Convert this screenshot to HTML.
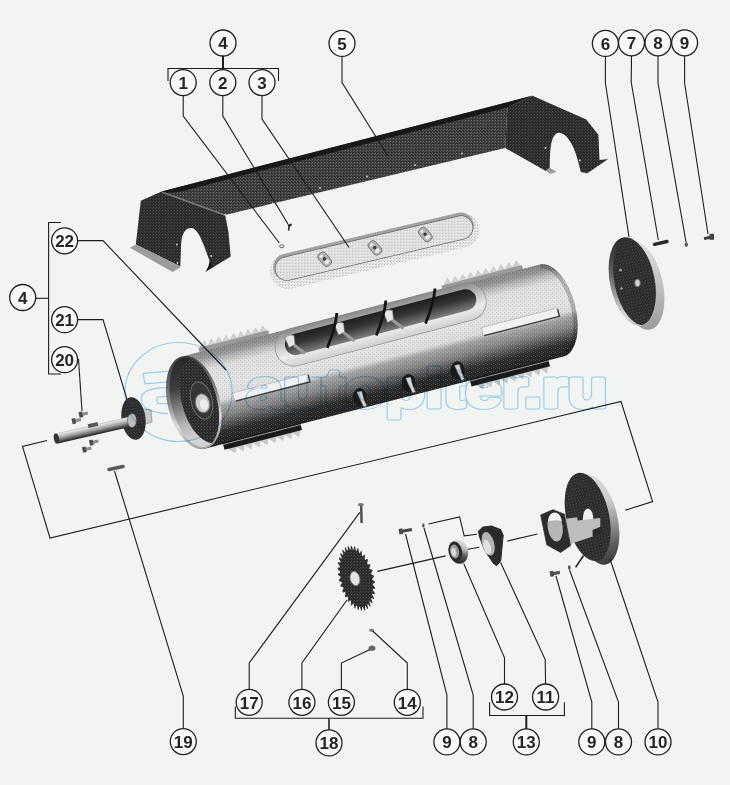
<!DOCTYPE html>
<html><head><meta charset="utf-8"><title>Diagram</title>
<style>html,body{margin:0;padding:0;background:#f2f4f1;}svg{display:block;will-change:transform}text{font-family:"Liberation Sans",sans-serif;}</style></head>
<body><svg width="730" height="785" viewBox="0 0 730 785">
<defs>
<pattern id="dk" width="3" height="3" patternUnits="userSpaceOnUse"><rect width="3" height="3" fill="#2a2a2a"/><rect x="0" y="0" width="1" height="1" fill="#525252"/><rect x="2" y="1" width="1" height="1" fill="#404040"/></pattern>
<pattern id="lt" width="3" height="3" patternUnits="userSpaceOnUse"><rect width="3" height="3" fill="#dedede"/><rect x="0" y="0" width="1" height="1" fill="#f4f4f4"/><rect x="1" y="2" width="1" height="1" fill="#c4c4c4"/></pattern>
<linearGradient id="cyl" gradientUnits="userSpaceOnUse" x1="362" y1="310" x2="386" y2="404">
<stop offset="0" stop-color="#858585"/><stop offset="0.07" stop-color="#939393"/><stop offset="0.13" stop-color="#bcbcbc"/><stop offset="0.2" stop-color="#dedede"/><stop offset="0.4" stop-color="#e4e4e4"/><stop offset="0.54" stop-color="#dcdcdc"/><stop offset="0.6" stop-color="#a2a2a2"/><stop offset="0.7" stop-color="#848484"/><stop offset="0.78" stop-color="#585858"/><stop offset="0.86" stop-color="#2c2c2c"/><stop offset="1" stop-color="#202020"/>
</linearGradient>
<pattern id="dk2" width="3" height="3" patternUnits="userSpaceOnUse"><rect width="3" height="3" fill="#3a3a3a"/><rect x="0" y="0" width="1" height="1" fill="#707070"/><rect x="2" y="1" width="1" height="1" fill="#585858"/><rect x="1" y="2" width="1" height="1" fill="#2c2c2c"/></pattern><pattern id="lt2" width="3" height="3" patternUnits="userSpaceOnUse"><rect width="3" height="3" fill="#e6e6e6"/><rect x="0" y="0" width="1" height="1" fill="#bdbdbd"/><rect x="2" y="1" width="1" height="1" fill="#f6f6f6"/><rect x="1" y="2" width="1" height="1" fill="#cfcfcf"/></pattern><clipPath id="bodyc"><path d="M182.0,356.5 L539.8,264.5 A47.5,24 75.6 0 1 563.5,356.5 L205.6,448.5 Z"/></clipPath><pattern id="nz" width="4" height="4" patternUnits="userSpaceOnUse"><rect x="0" y="0" width="1" height="1" fill="#000" fill-opacity="0.13"/><rect x="2" y="2" width="1" height="1" fill="#000" fill-opacity="0.10"/><rect x="3" y="0" width="1" height="1" fill="#fff" fill-opacity="0.2"/><rect x="1" y="3" width="1" height="1" fill="#fff" fill-opacity="0.16"/><rect x="1" y="1" width="1" height="1" fill="#c98" fill-opacity="0.12"/></pattern><linearGradient id="endg" gradientUnits="userSpaceOnUse" x1="184" y1="356" x2="207" y2="449"><stop offset="0" stop-color="#262626"/><stop offset="0.3" stop-color="#3c3c3c"/><stop offset="0.5" stop-color="#7a7a7a"/><stop offset="0.7" stop-color="#b5b5b5"/><stop offset="0.9" stop-color="#d8d8d8"/><stop offset="1" stop-color="#c4c4c4"/></linearGradient><linearGradient id="rimg" gradientUnits="userSpaceOnUse" x1="184" y1="356" x2="207" y2="449"><stop offset="0" stop-color="#3a3a3a"/><stop offset="0.45" stop-color="#8a8a8a"/><stop offset="0.7" stop-color="#dcdcdc"/><stop offset="1" stop-color="#9a9a9a"/></linearGradient><linearGradient id="rimS" gradientUnits="userSpaceOnUse" x1="376" y1="305.5" x2="385.6" y2="342"><stop offset="0" stop-color="#858585"/><stop offset="0.2" stop-color="#a4a4a4"/><stop offset="0.45" stop-color="#cccccc"/><stop offset="0.72" stop-color="#ececec"/><stop offset="1" stop-color="#d2d2d2"/></linearGradient><linearGradient id="slotg" gradientUnits="userSpaceOnUse" x1="377.5" y1="311.5" x2="383" y2="332.5"><stop offset="0" stop-color="#1e1e1e"/><stop offset="0.45" stop-color="#343434"/><stop offset="1" stop-color="#7c7c7c"/></linearGradient><linearGradient id="d6r" x1="0" y1="0" x2="0" y2="1"><stop offset="0" stop-color="#2a2a2a"/><stop offset="0.3" stop-color="#555"/><stop offset="0.6" stop-color="#9a9a9a"/><stop offset="0.85" stop-color="#dcdcdc"/><stop offset="1" stop-color="#bcbcbc"/></linearGradient><linearGradient id="d6b" x1="0" y1="0" x2="0" y2="1"><stop offset="0" stop-color="#e2e2e2"/><stop offset="0.5" stop-color="#c4c4c4"/><stop offset="1" stop-color="#9c9c9c"/></linearGradient><clipPath id="d6c"><ellipse cx="632.5" cy="281.5" rx="22" ry="44.5" transform="rotate(-12 632.5 281.5)"/></clipPath><linearGradient id="sh" gradientUnits="userSpaceOnUse" x1="93" y1="423" x2="95.5" y2="434"><stop offset="0" stop-color="#999"/><stop offset="0.3" stop-color="#e2e2e2"/><stop offset="0.65" stop-color="#9a9a9a"/><stop offset="1" stop-color="#333"/></linearGradient><linearGradient id="d10b" x1="0" y1="0" x2="0" y2="1"><stop offset="0" stop-color="#d8d8d8"/><stop offset="0.3" stop-color="#cfcfcf"/><stop offset="0.55" stop-color="#9c9c9c"/><stop offset="0.8" stop-color="#5c5c5c"/><stop offset="1" stop-color="#3a3a3a"/></linearGradient><linearGradient id="brg" x1="0.7" y1="0" x2="0.3" y2="1"><stop offset="0" stop-color="#e8e8e8"/><stop offset="0.35" stop-color="#bdbdbd"/><stop offset="0.62" stop-color="#555"/><stop offset="1" stop-color="#1e1e1e"/></linearGradient></defs>
<rect width="730" height="785" fill="#f2f4f1"/>
<polygon points="161.6,191.5 532.6,95.8 507.4,107.4 505.2,148.0 225.2,214.9" fill="url(#dk2)"/>
<polygon points="161.6,191.5 532.6,95.6 507.4,107.4 178.0,192.2 164.5,193.0" fill="#181818"/>
<path d="M161.6,191.5 L140.8,200.7 L135.8,244.5 L180.3,266.6 L181.2,243 C182,232 186.5,227.6 191.5,228 C197,228.6 201,238 204.4,246.7 L212,267.5 L205.5,271.9 L230.7,256.6 L228.5,232.5 L225.2,214.9 Z" fill="url(#dk)"/>
<polygon points="209.9,259.9 212.3,267.3 205.5,271.9 208.5,266.0" fill="#141414"/>
<polygon points="135.8,244.5 129.9,247.8 172.6,271.9 180.3,267.5 180.3,266.4" fill="#9c9c9c"/>
<polyline points="162.5,192.2 225.2,215.3" stroke="#777" stroke-width="1.6" fill="none"/>
<circle cx="225.3" cy="214.6" r="0.9" fill="#d8d8d8"/>
<circle cx="272.5" cy="203.5" r="0.9" fill="#d8d8d8"/>
<circle cx="176.8" cy="244.5" r="0.9" fill="#d8d8d8"/>
<circle cx="177.5" cy="263" r="0.9" fill="#d8d8d8"/>
<circle cx="211.2" cy="256" r="0.9" fill="#d8d8d8"/>
<path d="M507.4,107.4 L532.6,95.8 L586.3,119.5 L598.4,134.8 L599.5,160 L608.2,158.9 L587.4,173.2 L580.8,172 L577.5,158.9 C574,147 569,138 564.4,134.8 C560,131.5 556,132 553.4,137 C550.5,143 550,150 549.7,167.7 L545.8,171 L505.2,148 Z" fill="url(#dk)"/>
<polygon points="549.7,167.7 556.7,172.0 550.1,173.8 546.0,171.0" fill="#9a9a9a"/>
<circle cx="545.5" cy="148" r="0.9" fill="#d8d8d8"/>
<circle cx="580" cy="160.5" r="0.9" fill="#d8d8d8"/>
<circle cx="462" cy="153.5" r="0.9" fill="#d8d8d8"/>
<circle cx="415" cy="165" r="0.9" fill="#d8d8d8"/>
<circle cx="367" cy="176.5" r="0.9" fill="#d8d8d8"/>
<circle cx="320" cy="188" r="0.9" fill="#d8d8d8"/>
<line x1="287.6" y1="271.2" x2="461.6" y2="230.2" stroke="url(#lt2)" stroke-width="35.3" stroke-linecap="round" />
<line x1="286.6" y1="266.9" x2="460.6" y2="225.9" stroke="#a2a2a2" stroke-width="26.6" stroke-linecap="round" />
<line x1="287.0" y1="268.6" x2="461.0" y2="227.6" stroke="#666" stroke-width="24.4" stroke-linecap="round" />
<line x1="287.0" y1="268.6" x2="461.0" y2="227.6" stroke="url(#lt)" stroke-width="23" stroke-linecap="round" />
<g transform="translate(324.7 259.2) rotate(-40)"><rect x="-4.6" y="-7.6" width="9.2" height="15.2" rx="3.6" fill="#b2b2b2" stroke="#6e6e6e" stroke-width="0.8"/><ellipse cx="0" cy="3.6" rx="2.6" ry="2" fill="#ececec"/><ellipse cx="-0.6" cy="-4.6" rx="1.8" ry="1.4" fill="#e8e8e8"/><circle cx="0" cy="-0.4" r="1.7" fill="#3c3c3c"/></g>
<g transform="translate(375 247.9) rotate(-40)"><rect x="-4.6" y="-7.6" width="9.2" height="15.2" rx="3.6" fill="#b2b2b2" stroke="#6e6e6e" stroke-width="0.8"/><ellipse cx="0" cy="3.6" rx="2.6" ry="2" fill="#ececec"/><ellipse cx="-0.6" cy="-4.6" rx="1.8" ry="1.4" fill="#e8e8e8"/><circle cx="0" cy="-0.4" r="1.7" fill="#3c3c3c"/></g>
<g transform="translate(425.3 234.5) rotate(-40)"><rect x="-4.6" y="-7.6" width="9.2" height="15.2" rx="3.6" fill="#b2b2b2" stroke="#6e6e6e" stroke-width="0.8"/><ellipse cx="0" cy="3.6" rx="2.6" ry="2" fill="#ececec"/><ellipse cx="-0.6" cy="-4.6" rx="1.8" ry="1.4" fill="#e8e8e8"/><circle cx="0" cy="-0.4" r="1.7" fill="#3c3c3c"/></g>
<ellipse cx="281.8" cy="246.2" rx="2.2" ry="1.5" fill="none" stroke="#555" stroke-width="0.9"/>
<path d="M287.5,224.5 l4.5,-1 l-0.6,2.6 l-1.6,0.6 l-0.4,4 l-1.6,-0.3 l0.4,-3.8 z" fill="#2e2e2e"/>
<polygon points="200.5,348.1 204.1,341.0 207.8,346.2" fill="#d2d2d2" stroke="#a8a8a8" stroke-width="0.4"/><polygon points="207.8,346.2 211.4,339.1 215.1,344.4" fill="#d2d2d2" stroke="#a8a8a8" stroke-width="0.4"/><polygon points="215.1,344.4 218.7,337.2 222.4,342.5" fill="#d2d2d2" stroke="#a8a8a8" stroke-width="0.4"/><polygon points="222.4,342.5 226.0,335.4 229.7,340.6" fill="#d2d2d2" stroke="#a8a8a8" stroke-width="0.4"/><polygon points="229.7,340.6 233.4,333.5 237.1,338.7" fill="#d2d2d2" stroke="#a8a8a8" stroke-width="0.4"/><polygon points="237.1,338.7 240.7,331.6 244.4,336.8" fill="#d2d2d2" stroke="#a8a8a8" stroke-width="0.4"/><polygon points="244.4,336.8 248.0,329.7 251.7,335.0" fill="#d2d2d2" stroke="#a8a8a8" stroke-width="0.4"/><polygon points="251.7,335.0 255.3,327.8 259.0,333.1" fill="#d2d2d2" stroke="#a8a8a8" stroke-width="0.4"/><polygon points="259.0,333.1 262.6,326.0 266.3,331.2" fill="#d2d2d2" stroke="#a8a8a8" stroke-width="0.4"/>
<polygon points="443.6,285.7 447.4,278.5 451.2,283.7" fill="#d2d2d2" stroke="#a8a8a8" stroke-width="0.4"/><polygon points="451.2,283.7 455.0,276.5 458.9,281.7" fill="#d2d2d2" stroke="#a8a8a8" stroke-width="0.4"/><polygon points="458.9,281.7 462.7,274.6 466.5,279.8" fill="#d2d2d2" stroke="#a8a8a8" stroke-width="0.4"/><polygon points="466.5,279.8 470.3,272.6 474.2,277.8" fill="#d2d2d2" stroke="#a8a8a8" stroke-width="0.4"/><polygon points="474.2,277.8 478.0,270.6 481.8,275.8" fill="#d2d2d2" stroke="#a8a8a8" stroke-width="0.4"/><polygon points="481.8,275.8 485.6,268.7 489.5,273.9" fill="#d2d2d2" stroke="#a8a8a8" stroke-width="0.4"/><polygon points="489.5,273.9 493.3,266.7 497.1,271.9" fill="#d2d2d2" stroke="#a8a8a8" stroke-width="0.4"/><polygon points="497.1,271.9 500.9,264.7 504.8,269.9" fill="#d2d2d2" stroke="#a8a8a8" stroke-width="0.4"/><polygon points="504.8,269.9 508.6,262.8 512.4,268.0" fill="#d2d2d2" stroke="#a8a8a8" stroke-width="0.4"/><polygon points="512.4,268.0 516.2,260.8 520.1,266.0" fill="#d2d2d2" stroke="#a8a8a8" stroke-width="0.4"/>
<polygon points="198.4,348.1 268.1,330.2 269.6,336.0 199.9,354.0" fill="#9a9a9a"/>
<polygon points="441.5,285.7 521.9,265.0 523.4,270.8 443.0,291.5" fill="#9a9a9a"/>
<path d="M182.0,356.5 L539.8,264.5 A47.5,24 75.6 0 1 563.5,356.5 L205.6,448.5 A47.5,25.5 75.6 0 1 182.0,356.5 Z" fill="url(#cyl)"/>
<path d="M539.8,264.5 A47.5,24 75.6 0 1 563.5,356.5" fill="none" stroke="#000" stroke-opacity="0.22" stroke-width="9" clip-path="url(#bodyc)"/>
<rect x="160" y="250" width="430" height="210" fill="url(#nz)" clip-path="url(#bodyc)"/>
<polygon points="228.3,448.4 235.2,452.8 236.3,446.3" fill="#c9c9c9" stroke="#a8a8a8" stroke-width="0.4"/><polygon points="236.3,446.3 243.2,450.7 244.2,444.3" fill="#c9c9c9" stroke="#a8a8a8" stroke-width="0.4"/><polygon points="244.2,444.3 251.2,448.7 252.2,442.2" fill="#c9c9c9" stroke="#a8a8a8" stroke-width="0.4"/><polygon points="252.2,442.2 259.1,446.6 260.2,440.2" fill="#c9c9c9" stroke="#a8a8a8" stroke-width="0.4"/><polygon points="260.2,440.2 267.1,444.6 268.1,438.1" fill="#c9c9c9" stroke="#a8a8a8" stroke-width="0.4"/><polygon points="268.1,438.1 275.0,442.5 276.1,436.1" fill="#c9c9c9" stroke="#a8a8a8" stroke-width="0.4"/><polygon points="276.1,436.1 283.0,440.5 284.0,434.0" fill="#c9c9c9" stroke="#a8a8a8" stroke-width="0.4"/><polygon points="284.0,434.0 291.0,438.4 292.0,432.0" fill="#c9c9c9" stroke="#a8a8a8" stroke-width="0.4"/><polygon points="292.0,432.0 298.9,436.4 300.0,429.9" fill="#c9c9c9" stroke="#a8a8a8" stroke-width="0.4"/>
<polygon points="476.2,384.6 483.2,389.1 484.2,382.6" fill="#c9c9c9" stroke="#a8a8a8" stroke-width="0.4"/><polygon points="484.2,382.6 491.1,387.0 492.2,380.5" fill="#c9c9c9" stroke="#a8a8a8" stroke-width="0.4"/><polygon points="492.2,380.5 499.1,385.0 500.1,378.5" fill="#c9c9c9" stroke="#a8a8a8" stroke-width="0.4"/><polygon points="500.1,378.5 507.1,382.9 508.1,376.5" fill="#c9c9c9" stroke="#a8a8a8" stroke-width="0.4"/><polygon points="508.1,376.5 515.0,380.9 516.1,374.4" fill="#c9c9c9" stroke="#a8a8a8" stroke-width="0.4"/><polygon points="516.1,374.4 523.0,378.8 524.0,372.4" fill="#c9c9c9" stroke="#a8a8a8" stroke-width="0.4"/><polygon points="524.0,372.4 530.9,376.8 532.0,370.3" fill="#c9c9c9" stroke="#a8a8a8" stroke-width="0.4"/><polygon points="532.0,370.3 538.9,374.7 539.9,368.3" fill="#c9c9c9" stroke="#a8a8a8" stroke-width="0.4"/><polygon points="539.9,368.3 546.9,372.7 547.9,366.2" fill="#c9c9c9" stroke="#a8a8a8" stroke-width="0.4"/>
<polygon points="222.7,442.6 300.2,422.7 302.0,429.9 224.5,449.8" fill="#1a1a1a"/>
<polygon points="469.6,379.1 548.1,358.9 550.0,366.2 471.5,386.4" fill="#1a1a1a"/>
<line x1="223.2" y1="444.5" x2="300.7" y2="424.6" stroke="#a8a8a8" stroke-width="0.9"/>
<line x1="470.1" y1="381.0" x2="548.6" y2="360.9" stroke="#a8a8a8" stroke-width="0.9"/>
<polygon points="232.7,393.0 307.2,373.9 309.2,381.6 234.7,400.8" fill="#f1f1f1" stroke="#9a9a9a" stroke-width="0.5"/><polyline points="235.8,401.1 310.0,382.0 308.1,374.7" fill="none" stroke="#3c3c3c" stroke-width="1.3"/>
<polygon points="481.2,327.6 556.7,308.2 558.7,315.9 483.2,335.4" fill="#f1f1f1" stroke="#9a9a9a" stroke-width="0.5"/><polyline points="484.3,335.7 559.5,316.4 557.6,309.0" fill="none" stroke="#3c3c3c" stroke-width="1.3"/>
<clipPath id="openL"><ellipse cx="194.3" cy="402.5" rx="46" ry="22.8" transform="rotate(75.6 194.3 402.5)"/></clipPath>
<path d="M182.0,356.5 A47.5,25.5 75.6 1 0 205.6,448.5 A47.5,25.5 75.6 1 0 182.0,356.5 Z" fill="url(#rimg)" />
<g clip-path="url(#openL)"><path d="M182.3,357.7 A46.3,24.3 75.6 1 0 205.3,447.3 A46.3,24.3 75.6 1 0 182.3,357.7 Z" fill="url(#endg)" /><path d="M194.7,355.8 A45,24.3 75.6 1 0 217.1,443.0 A45,24.3 75.6 1 0 194.7,355.8 Z" fill="url(#dk)" /><ellipse cx="201.5" cy="400.5" rx="19" ry="10.5" transform="rotate(75.6 201.5 400.5)" fill="#353535" stroke="#6a6a6a" stroke-width="1"/><ellipse cx="202.6" cy="403.3" rx="9.6" ry="7.2" transform="rotate(75.6 202.6 403.3)" fill="#cdcdcd" stroke="#6c6c6c" stroke-width="1"/><ellipse cx="204" cy="404.5" rx="5.5" ry="4" transform="rotate(75.6 204 404.5)" fill="#ededed"/></g>
<line x1="294" y1="347.2" x2="467.3" y2="301.8" stroke="#8a8a8a" stroke-width="38.6" stroke-linecap="round"/>
<line x1="294" y1="347.2" x2="467.3" y2="301.8" stroke="url(#rimS)" stroke-width="37.2" stroke-linecap="round"/>
<line x1="295.5" y1="344.5" x2="465.7" y2="299.9" stroke="url(#slotg)" stroke-width="21.4" stroke-linecap="round"/>
<path d="M292,343.5 l13,10" stroke="#9a9a9a" stroke-width="3" fill="none"/>
<path d="M285,337.5 q4,-4 9,-2 l1,9 l-6,3 z" fill="#e6e6e6" stroke="#777" stroke-width="0.6"/>
<path d="M341.5,331 l13,10" stroke="#9a9a9a" stroke-width="3" fill="none"/>
<path d="M334.5,325 q4,-4 9,-2 l1,9 l-6,3 z" fill="#e6e6e6" stroke="#777" stroke-width="0.6"/>
<path d="M390.5,318.5 l13,10" stroke="#9a9a9a" stroke-width="3" fill="none"/>
<path d="M383.5,312.5 q4,-4 9,-2 l1,9 l-6,3 z" fill="#e6e6e6" stroke="#777" stroke-width="0.6"/>
<path d="M336.8,313 q-1,14 -9.5,35" stroke="#141414" stroke-width="2.8" fill="none"/>
<path d="M385.8,300.5 q-1,14 -9.5,35" stroke="#141414" stroke-width="2.8" fill="none"/>
<path d="M435,288.5 q-1,14 -9.5,35" stroke="#141414" stroke-width="2.8" fill="none"/>
<ellipse cx="359.8" cy="397" rx="7" ry="9" fill="#1a1a1a"/>
<path d="M356.8,392 l5,-1 l2,8 l3,7 l-3,1 l-4,-8 z" fill="#d5d5d5" stroke="#555" stroke-width="0.5"/>
<ellipse cx="408.6" cy="382.9" rx="7" ry="9" fill="#1a1a1a"/>
<path d="M405.6,377.9 l5,-1 l2,8 l3,7 l-3,1 l-4,-8 z" fill="#d5d5d5" stroke="#555" stroke-width="0.5"/>
<ellipse cx="457.5" cy="370.3" rx="7" ry="9" fill="#1a1a1a"/>
<path d="M454.5,365.3 l5,-1 l2,8 l3,7 l-3,1 l-4,-8 z" fill="#d5d5d5" stroke="#555" stroke-width="0.5"/>
<ellipse cx="641" cy="285.5" rx="22" ry="45" transform="rotate(-12 641 285.5)" fill="url(#d6b)"/>
<ellipse cx="632.5" cy="281.5" rx="22.5" ry="45" transform="rotate(-12 632.5 281.5)" fill="url(#d6r)"/>
<g clip-path="url(#d6c)"><ellipse cx="636" cy="282" rx="21.5" ry="44" transform="rotate(-12 636 282)" fill="url(#dk)"/></g>
<ellipse cx="637.5" cy="283" rx="2.8" ry="3.8" fill="#d0d0d0" stroke="#666" stroke-width="0.8"/>
<circle cx="620.5" cy="270" r="1.5" fill="#9a9a9a"/><circle cx="621.5" cy="288.5" r="1.3" fill="#9a9a9a"/>
<line x1="654.5" y1="244.3" x2="667" y2="241.5" stroke="#2a2a2a" stroke-width="3.4" stroke-linecap="round"/>
<ellipse cx="686.3" cy="244.6" rx="1.6" ry="2.4" fill="#555"/>
<line x1="704" y1="238.6" x2="714" y2="236.5" stroke="#3a3a3a" stroke-width="3"/><rect x="709.5" y="233.8" width="4.5" height="6" fill="#444"/>
<polygon points="141,408.5 151,410 152,422 142,425" fill="#c9c9c9" stroke="#777" stroke-width="0.6"/>
<ellipse cx="133.5" cy="418.5" rx="12" ry="21.5" transform="rotate(-8 133.5 418.5)" fill="url(#dk)"/>
<line x1="57" y1="438.5" x2="131" y2="421.5" stroke="url(#sh)" stroke-width="10.5"/>
<ellipse cx="56.5" cy="438.6" rx="2.6" ry="5.2" transform="rotate(-12 56.5 438.6)" fill="#333"/>
<ellipse cx="132" cy="420.5" rx="4.5" ry="7" fill="#bdbdbd" stroke="#555" stroke-width="0.6"/>
<rect x="88" y="423" width="10" height="4" fill="#555" transform="rotate(-13 93 425)"/>
<g transform="translate(83.5 414) rotate(-13)"><rect x="-4.5" y="-1.6" width="9" height="3.2" fill="#8c8c8c"/><rect x="-4.5" y="-2.8" width="3.6" height="5.6" fill="#4c4c4c"/></g>
<g transform="translate(76.5 420.5) rotate(-13)"><rect x="-4.5" y="-1.6" width="9" height="3.2" fill="#8c8c8c"/><rect x="-4.5" y="-2.8" width="3.6" height="5.6" fill="#4c4c4c"/></g>
<g transform="translate(94 442) rotate(-13)"><rect x="-4.5" y="-1.6" width="9" height="3.2" fill="#8c8c8c"/><rect x="-4.5" y="-2.8" width="3.6" height="5.6" fill="#4c4c4c"/></g>
<g transform="translate(87 449) rotate(-13)"><rect x="-4.5" y="-1.6" width="9" height="3.2" fill="#8c8c8c"/><rect x="-4.5" y="-2.8" width="3.6" height="5.6" fill="#4c4c4c"/></g>
<line x1="109" y1="469.4" x2="123" y2="466.6" stroke="#5a5a5a" stroke-width="3.6" stroke-linecap="round"/>
<ellipse cx="596.2" cy="520" rx="21.5" ry="45.5" transform="rotate(-12.5 596.2 520)" fill="url(#d10b)"/>
<ellipse cx="587.7" cy="516.9" rx="21.4" ry="45" transform="rotate(-12.5 587.7 516.9)" fill="url(#dk)"/>
<path d="M582.7,520.4 q0.3,-11.5 5.2,-12 q5,0.8 5.5,11 z" fill="#f0f0f0"/>
<polygon points="565.9,518.8 577.4,517.3 577.4,520.4 582.7,519.9 600.3,518.1 600.3,531.8 592.6,536.4 572.8,543.3 570.5,545.6" fill="#bdbdbd"/>
<polygon points="592.6,530.0 601.0,526.5 603.0,533.0 596.0,536.5 592.6,536.4" fill="#2a2a2a"/>
<polygon points="540.7,515.0 552.9,509.7 564.4,514.2 570.5,545.6 560.6,552.4 546.8,544.8" fill="#2c2c2c" stroke="#2c2c2c" stroke-width="0.8" stroke-linejoin="round"/>
<ellipse cx="555.2" cy="527.2" rx="7.5" ry="14.5" transform="rotate(-8 555.2 527.2)" fill="#b6b6b6"/>
<path d="M548,521.5 q7,-2 14,-0.5 q-2.2,-8.6 -7.4,-8.4 q-5.2,0.6 -6.6,8.9 z" fill="#f3f3f3"/>
<g transform="translate(555 573.2) rotate(-10)"><rect x="-5.0" y="-1.6" width="10" height="3.2" fill="#555"/><rect x="-5.0" y="-2.8" width="3.6" height="5.6" fill="#4c4c4c"/></g>
<ellipse cx="569.3" cy="567.5" rx="1.2" ry="2.2" fill="#444"/>
<polygon points="371.3,574.5 373.6,575.5 374.0,577.0 372.2,578.5 372.4,579.8 374.7,581.5 374.8,583.0 372.8,583.7 372.9,585.0 375.1,587.4 375.1,588.8 372.9,588.8 372.8,590.0 374.9,592.9 374.7,594.3 372.4,593.6 372.2,594.7 374.0,598.0 373.7,599.2 371.4,597.8 371.1,598.7 372.6,602.4 372.1,603.4 369.9,601.3 369.4,602.1 370.6,606.0 370.0,606.7 367.9,604.1 367.3,604.6 368.1,608.6 367.4,609.1 365.5,605.9 364.9,606.3 365.2,610.2 364.4,610.4 362.8,606.9 362.1,606.9 362.0,610.7 361.2,610.7 359.9,606.8 359.2,606.7 358.7,610.1 357.8,609.8 356.9,605.8 356.1,605.4 355.2,608.4 354.3,607.8 353.8,603.8 353.1,603.2 351.8,605.7 351.0,604.9 350.9,601.0 350.1,600.2 348.5,602.0 347.8,601.0 348.1,597.4 347.4,596.4 345.6,597.6 344.9,596.3 345.6,593.1 345.0,592.0 342.9,592.4 342.4,591.1 343.5,588.4 343.0,587.1 340.8,586.8 340.3,585.4 341.8,583.2 341.5,581.9 339.2,580.9 338.8,579.4 340.6,577.9 340.4,576.6 338.1,574.9 338.0,573.4 340.0,572.7 339.9,571.4 337.7,569.0 337.7,567.6 339.9,567.6 340.0,566.4 337.9,563.5 338.1,562.1 340.4,562.8 340.6,561.7 338.8,558.4 339.1,557.2 341.4,558.6 341.7,557.7 340.2,554.0 340.7,553.0 342.9,555.1 343.4,554.3 342.2,550.4 342.8,549.7 344.9,552.3 345.5,551.8 344.7,547.8 345.4,547.3 347.3,550.5 347.9,550.1 347.6,546.2 348.4,546.0 350.0,549.5 350.7,549.5 350.8,545.7 351.6,545.7 352.9,549.6 353.6,549.7 354.1,546.3 355.0,546.6 355.9,550.6 356.7,551.0 357.6,548.0 358.5,548.6 359.0,552.6 359.7,553.2 361.0,550.7 361.8,551.5 361.9,555.4 362.7,556.2 364.3,554.4 365.0,555.4 364.7,559.0 365.4,560.0 367.2,558.8 367.9,560.1 367.2,563.3 367.8,564.4 369.9,564.0 370.4,565.3 369.3,568.0 369.8,569.3 372.0,569.6 372.5,571.0 371.0,573.2" fill="url(#dk)"/>
<ellipse cx="354.9" cy="578.2" rx="4.8" ry="7.2" transform="rotate(-14 356.4 578.2)" fill="#e4e4e4" stroke="#777" stroke-width="0.8"/>
<line x1="361.2" y1="506" x2="361.6" y2="523" stroke="#4a4a4a" stroke-width="2.4"/><ellipse cx="360.8" cy="504.6" rx="3" ry="1.6" fill="#777"/>
<g transform="translate(405.5 530.6) rotate(-10)"><rect x="-6.5" y="-1.6" width="13" height="3.2" fill="#444"/><rect x="-6.5" y="-2.8" width="3.6" height="5.6" fill="#4c4c4c"/></g>
<ellipse cx="423.3" cy="525.4" rx="1.2" ry="2.2" fill="#555"/>
<ellipse cx="371.6" cy="630.2" rx="2.6" ry="1.5" fill="#777"/>
<ellipse cx="372" cy="648.2" rx="3.4" ry="2.6" fill="#666"/>
<ellipse cx="458.6" cy="551.6" rx="9.6" ry="12.2" transform="rotate(-12 458.6 551.6)" fill="url(#brg)"/>
<ellipse cx="455.3" cy="551.3" rx="6.8" ry="10" transform="rotate(-12 455.3 551.3)" fill="#2a2a2a"/>
<ellipse cx="454.6" cy="551.5" rx="4.4" ry="7" transform="rotate(-12 454.6 551.5)" fill="#9a9a9a"/>
<ellipse cx="453.8" cy="552.2" rx="2.4" ry="4.4" transform="rotate(-12 453.8 552.2)" fill="#d8d8d8"/>
<polygon points="478.5,531.2 482.6,527.1 491.6,526.0 500.7,529.6 503.2,535.3 500.7,560.8 496.6,565.8 493.3,563.3 484.2,549.3 479.3,536.2" fill="#2a2a2a" stroke="#2a2a2a" stroke-width="1" stroke-linejoin="round"/>
<ellipse cx="488.2" cy="543.8" rx="6" ry="12" transform="rotate(-15 488.2 543.8)" fill="#b4b4b4"/>
<ellipse cx="487.2" cy="547" rx="3.6" ry="7.5" transform="rotate(-15 487.2 547)" fill="#e2e2e2"/>
<mask id="wm" maskUnits="userSpaceOnUse" x="0" y="0" width="730" height="785"><text x="246.5" y="407" font-size="53" font-weight="bold" textLength="361" lengthAdjust="spacingAndGlyphs" stroke-linejoin="round" fill="#fff" stroke="#fff" stroke-width="4.9">autopiter.ru</text><text x="246.5" y="407" font-size="53" font-weight="bold" textLength="361" lengthAdjust="spacingAndGlyphs" stroke-linejoin="round" fill="#000" stroke="#000" stroke-width="3">autopiter.ru</text><ellipse cx="178.5" cy="392" rx="53.5" ry="49.5" fill="none" stroke="#fff" stroke-width="1.2"/><path d="M168,371.4 L143,373.4 L145,383.9 L168,382 M168,387.7 Q141,388 141.1,399 Q142,412.5 168,413.6 M168,396.4 L158,397 Q155,400 158,403.3 L168,403.7" fill="none" stroke="#fff" stroke-width="1.2"/></mask><rect width="730" height="785" fill="#a4d6f6" mask="url(#wm)" style="mix-blend-mode:multiply"/>
<g><polyline points="168.0,81.0 168.0,68.5 278.5,68.5 278.5,81.0" fill="none" stroke="#1e1e1e" stroke-width="1.1" /><polyline points="223.0,56.0 223.0,68.5" fill="none" stroke="#1e1e1e" stroke-width="2" /><polyline points="183.2,96.0 183.2,116.0 279.3,243.0" fill="none" stroke="#1e1e1e" stroke-width="1.1" /><polyline points="222.8,96.0 222.8,116.0 288.0,224.0" fill="none" stroke="#1e1e1e" stroke-width="1.1" /><polyline points="262.0,96.0 262.0,119.0 349.0,247.5" fill="none" stroke="#1e1e1e" stroke-width="1.1" /><polyline points="342.0,56.5 342.0,82.5 388.0,156.0" fill="none" stroke="#1e1e1e" stroke-width="1.1" /><polyline points="605.4,56.5 605.4,83.0 629.0,237.0" fill="none" stroke="#1e1e1e" stroke-width="1.1" /><polyline points="631.5,56.0 631.2,82.0 658.3,240.0" fill="none" stroke="#1e1e1e" stroke-width="1.1" /><polyline points="658.0,56.0 658.0,83.0 686.0,242.0" fill="none" stroke="#1e1e1e" stroke-width="1.1" /><polyline points="684.6,56.0 684.6,83.0 708.0,234.0" fill="none" stroke="#1e1e1e" stroke-width="1.1" /><polyline points="61.0,222.5 48.6,222.5 48.6,374.0 61.0,374.0" fill="none" stroke="#1e1e1e" stroke-width="1.1" /><polyline points="36.0,298.3 48.6,298.3" fill="none" stroke="#1e1e1e" stroke-width="1.1" /><polyline points="78.0,240.6 103.0,240.6 226.0,370.0" fill="none" stroke="#1e1e1e" stroke-width="1.1" /><polyline points="78.0,319.6 103.0,319.6 127.0,399.5" fill="none" stroke="#1e1e1e" stroke-width="1.1" /><polyline points="78.5,359.0 82.0,411.0" fill="none" stroke="#1e1e1e" stroke-width="1.1" /><polyline points="47.0,440.5 22.5,446.5 50.0,538.0 621.0,401.5 652.6,501.6 625.2,510.2" fill="none" stroke="#1e1e1e" stroke-width="1.1" /><polyline points="183.3,728.0 183.3,696.0 114.5,471.0" fill="none" stroke="#1e1e1e" stroke-width="1.1" /><polyline points="235.3,706.6 235.3,718.3 423.0,718.3 423.0,706.6" fill="none" stroke="#1e1e1e" stroke-width="1.1" /><polyline points="329.0,718.3 329.0,730.0" fill="none" stroke="#1e1e1e" stroke-width="1.6" /><polyline points="249.2,689.5 249.2,663.0 359.8,512.4" fill="none" stroke="#1e1e1e" stroke-width="1.1" /><polyline points="301.9,689.5 301.9,663.0 347.0,600.0" fill="none" stroke="#1e1e1e" stroke-width="1.1" /><polyline points="341.4,689.5 341.4,663.0 370.0,649.5" fill="none" stroke="#1e1e1e" stroke-width="1.1" /><polyline points="407.3,689.5 407.3,663.0 372.7,631.0" fill="none" stroke="#1e1e1e" stroke-width="1.1" /><polyline points="446.9,729.0 446.9,695.0 405.5,534.0" fill="none" stroke="#1e1e1e" stroke-width="1.1" /><polyline points="473.2,729.0 473.2,695.0 424.0,528.0" fill="none" stroke="#1e1e1e" stroke-width="1.1" /><polyline points="489.6,702.3 489.6,715.5 564.4,715.5 564.4,702.3" fill="none" stroke="#1e1e1e" stroke-width="1.1" /><polyline points="526.3,715.5 526.3,729.0" fill="none" stroke="#1e1e1e" stroke-width="2" /><polyline points="504.5,684.0 504.5,657.8 463.7,563.5" fill="none" stroke="#1e1e1e" stroke-width="1.1" /><polyline points="545.6,684.0 545.2,659.5 500.6,562.5" fill="none" stroke="#1e1e1e" stroke-width="1.1" /><polyline points="591.8,729.0 591.8,702.0 556.0,576.0" fill="none" stroke="#1e1e1e" stroke-width="1.1" /><polyline points="618.5,729.0 618.5,702.0 569.5,570.0" fill="none" stroke="#1e1e1e" stroke-width="1.1" /><polyline points="658.0,729.0 658.0,702.0 610.0,559.0" fill="none" stroke="#1e1e1e" stroke-width="1.1" /><polyline points="377.3,571.4 445.6,555.9" fill="none" stroke="#1e1e1e" stroke-width="1.1" /><polyline points="467.8,549.3 479.3,547.2" fill="none" stroke="#1e1e1e" stroke-width="1.1" /><polyline points="507.3,541.1 537.5,534.0" fill="none" stroke="#1e1e1e" stroke-width="1.1" /><polyline points="428.5,524.0 459.6,516.9 464.2,535.8 476.9,534.2" fill="none" stroke="#1e1e1e" stroke-width="1.1" /><polyline points="575.6,567.4 583.5,555.5" fill="none" stroke="#1e1e1e" stroke-width="1.6" /></g>
<g font-family="Liberation Sans, sans-serif" font-weight="bold" font-size="17" fill="#222" opacity="0.99"><circle cx="223" cy="43" r="13" fill="#f9faf8" stroke="#1e1e1e" stroke-width="1.3"/><text x="223" y="49.2" text-anchor="middle">4</text><circle cx="183.2" cy="82.6" r="13" fill="#f9faf8" stroke="#1e1e1e" stroke-width="1.3"/><text x="183.2" y="88.8" text-anchor="middle">1</text><circle cx="222.8" cy="82.6" r="13" fill="#f9faf8" stroke="#1e1e1e" stroke-width="1.3"/><text x="222.8" y="88.8" text-anchor="middle">2</text><circle cx="262" cy="82.6" r="13" fill="#f9faf8" stroke="#1e1e1e" stroke-width="1.3"/><text x="262" y="88.8" text-anchor="middle">3</text><circle cx="342" cy="43.4" r="13" fill="#f9faf8" stroke="#1e1e1e" stroke-width="1.3"/><text x="342" y="49.6" text-anchor="middle">5</text><circle cx="605.4" cy="43.4" r="13" fill="#f9faf8" stroke="#1e1e1e" stroke-width="1.3"/><text x="605.4" y="49.6" text-anchor="middle">6</text><circle cx="631.5" cy="42.8" r="13" fill="#f9faf8" stroke="#1e1e1e" stroke-width="1.3"/><text x="631.5" y="49.0" text-anchor="middle">7</text><circle cx="658" cy="42.8" r="13" fill="#f9faf8" stroke="#1e1e1e" stroke-width="1.3"/><text x="658" y="49.0" text-anchor="middle">8</text><circle cx="684.6" cy="42.8" r="13" fill="#f9faf8" stroke="#1e1e1e" stroke-width="1.3"/><text x="684.6" y="49.0" text-anchor="middle">9</text><circle cx="64.6" cy="240.8" r="13" fill="#f9faf8" stroke="#1e1e1e" stroke-width="1.3"/><text x="64.6" y="247.0" text-anchor="middle">22</text><circle cx="64.6" cy="319.7" r="13" fill="#f9faf8" stroke="#1e1e1e" stroke-width="1.3"/><text x="64.6" y="325.9" text-anchor="middle">21</text><circle cx="64.6" cy="359.7" r="13" fill="#f9faf8" stroke="#1e1e1e" stroke-width="1.3"/><text x="64.6" y="365.9" text-anchor="middle">20</text><circle cx="22.7" cy="297.5" r="13" fill="#f9faf8" stroke="#1e1e1e" stroke-width="1.3"/><text x="22.7" y="303.7" text-anchor="middle">4</text><circle cx="249.2" cy="702.3" r="13" fill="#f9faf8" stroke="#1e1e1e" stroke-width="1.3"/><text x="249.2" y="708.5" text-anchor="middle">17</text><circle cx="301.9" cy="702.3" r="13" fill="#f9faf8" stroke="#1e1e1e" stroke-width="1.3"/><text x="301.9" y="708.5" text-anchor="middle">16</text><circle cx="341.4" cy="702.3" r="13" fill="#f9faf8" stroke="#1e1e1e" stroke-width="1.3"/><text x="341.4" y="708.5" text-anchor="middle">15</text><circle cx="407.3" cy="702.3" r="13" fill="#f9faf8" stroke="#1e1e1e" stroke-width="1.3"/><text x="407.3" y="708.5" text-anchor="middle">14</text><circle cx="329" cy="742.9" r="13" fill="#f9faf8" stroke="#1e1e1e" stroke-width="1.3"/><text x="329" y="749.1" text-anchor="middle">18</text><circle cx="183.3" cy="741.6" r="13" fill="#f9faf8" stroke="#1e1e1e" stroke-width="1.3"/><text x="183.3" y="747.8000000000001" text-anchor="middle">19</text><circle cx="446.9" cy="741.9" r="13" fill="#f9faf8" stroke="#1e1e1e" stroke-width="1.3"/><text x="446.9" y="748.1" text-anchor="middle">9</text><circle cx="473.2" cy="741.9" r="13" fill="#f9faf8" stroke="#1e1e1e" stroke-width="1.3"/><text x="473.2" y="748.1" text-anchor="middle">8</text><circle cx="504.5" cy="697" r="13" fill="#f9faf8" stroke="#1e1e1e" stroke-width="1.3"/><text x="504.5" y="703.2" text-anchor="middle">12</text><circle cx="545.6" cy="697" r="13" fill="#f9faf8" stroke="#1e1e1e" stroke-width="1.3"/><text x="545.6" y="703.2" text-anchor="middle">11</text><circle cx="526.3" cy="741.9" r="13" fill="#f9faf8" stroke="#1e1e1e" stroke-width="1.3"/><text x="526.3" y="748.1" text-anchor="middle">13</text><circle cx="591.8" cy="741.9" r="13" fill="#f9faf8" stroke="#1e1e1e" stroke-width="1.3"/><text x="591.8" y="748.1" text-anchor="middle">9</text><circle cx="618.5" cy="741.9" r="13" fill="#f9faf8" stroke="#1e1e1e" stroke-width="1.3"/><text x="618.5" y="748.1" text-anchor="middle">8</text><circle cx="658" cy="741.9" r="13" fill="#f9faf8" stroke="#1e1e1e" stroke-width="1.3"/><text x="658" y="748.1" text-anchor="middle">10</text></g>
</svg></body></html>
